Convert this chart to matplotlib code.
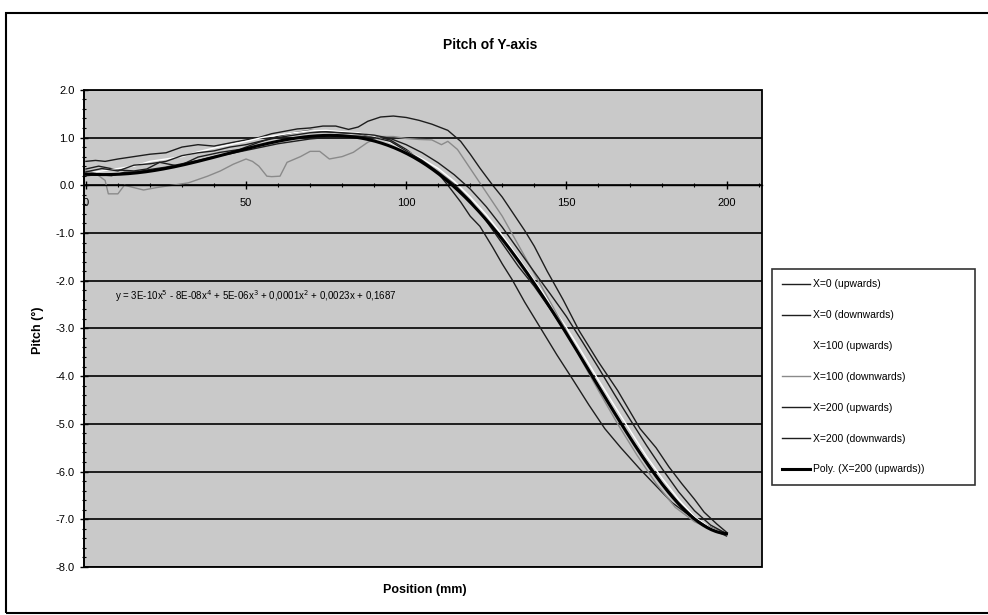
import numpy as np
import matplotlib
matplotlib.use('Agg')
from matplotlib import pyplot as plt
from matplotlib.ticker import MultipleLocator, FormatStrFormatter
from matplotlib.patches import Rectangle

plt.rcParams['font.family'] = ['Liberation Sans', 'DejaVu Sans']

# measured pitch along Y travel, one run per X position and direction
x0_up_pos = [0, 3, 6, 10, 15, 20, 25, 30, 35, 40, 46, 50, 54, 58, 62, 66, 70, 74,
             78, 82, 85, 88, 92, 96, 100, 104, 108, 113, 117, 120, 123, 127, 130,
             133, 137, 140, 144, 149, 154, 160, 166, 173, 178, 182, 186, 190, 193,
             197, 200]
x0_up = [0.50, 0.52, 0.50, 0.55, 0.60, 0.65, 0.68, 0.80, 0.85, 0.82, 0.90, 0.95,
         1.00, 1.08, 1.13, 1.18, 1.20, 1.24, 1.24, 1.17, 1.22, 1.34, 1.43, 1.45,
         1.42, 1.36, 1.28, 1.15, 0.92, 0.65, 0.36, 0.00, -0.25, -0.55, -0.95,
         -1.28, -1.80, -2.40, -3.05, -3.70, -4.30, -5.10, -5.50, -5.90, -6.25,
         -6.58, -6.85, -7.10, -7.27]

x0_down_pos = [0, 4, 10, 15, 19, 23, 29, 35, 42, 48, 54, 60, 65, 70, 75, 80, 85,
               90, 95, 100, 105, 110, 113, 117, 120, 123, 127, 130, 133, 137, 142,
               147, 152, 157, 162, 167, 173, 178, 183, 188, 192, 196, 200]
x0_down = [0.34, 0.40, 0.32, 0.30, 0.34, 0.48, 0.40, 0.59, 0.69, 0.75, 0.90, 1.03,
           1.10, 1.15, 1.12, 1.10, 1.08, 1.02, 0.95, 0.75, 0.50, 0.25, 0.00, -0.35,
           -0.65, -0.86, -1.30, -1.65, -1.97, -2.45, -3.00, -3.55, -4.07, -4.60,
           -5.10, -5.50, -5.95, -6.30, -6.65, -6.90, -7.07, -7.20, -7.30]

grid5 = [0, 5, 10, 15, 20, 25, 30, 35, 40, 45, 50, 55, 60, 65, 70, 75, 80, 85, 90,
         95, 100, 105, 110, 115, 120, 125, 130, 135, 140, 145, 150, 155, 160, 165,
         170, 175, 180, 185, 190, 195, 200]
x100_up = [0.25, 0.30, 0.35, 0.40, 0.50, 0.55, 0.60, 0.70, 0.78, 0.85, 0.92, 1.00,
           1.05, 1.10, 1.14, 1.15, 1.12, 1.10, 1.02, 0.90, 0.72, 0.55, 0.35, 0.08,
           -0.25, -0.62, -1.05, -1.52, -2.00, -2.48, -2.98, -3.52, -4.08, -4.62,
           -5.15, -5.68, -6.15, -6.58, -6.95, -7.18, -7.32]

x100_down_pos = [0, 3, 6, 7, 10, 12, 15, 18, 22, 27, 32, 38, 42, 46, 50, 52, 54,
                 56.5, 58, 60.6, 62.8, 67, 70, 73, 76, 80, 83.5, 88, 92, 96, 100,
                 104, 108, 111, 113, 116, 119, 122, 126, 130, 135, 140, 145, 150,
                 155, 160, 166, 172, 178, 184, 190, 195, 200]
x100_down = [0.30, 0.25, 0.10, -0.18, -0.18, 0.00, -0.05, -0.10, -0.05, 0.00, 0.05,
             0.19, 0.30, 0.44, 0.55, 0.50, 0.40, 0.19, 0.18, 0.19, 0.48, 0.60, 0.71,
             0.71, 0.55, 0.60, 0.69, 0.90, 1.02, 1.02, 0.98, 0.96, 0.95, 0.85, 0.92,
             0.75, 0.45, 0.15, -0.25, -0.65, -1.25, -1.85, -2.45, -3.05, -3.70,
             -4.30, -5.00, -5.65, -6.25, -6.75, -7.05, -7.20, -7.30]

x200_up_pos = [0, 4, 8, 12, 16, 20, 25, 30, 35, 40, 45, 50, 55, 60, 65, 70, 75, 80,
               85, 90, 95, 100, 105, 110, 115, 120, 125, 130, 135, 140, 145, 150,
               155, 160, 165, 170, 175, 180, 185, 190, 195, 200]
x200_up = [0.20, 0.22, 0.20, 0.27, 0.28, 0.33, 0.38, 0.45, 0.52, 0.60, 0.66, 0.73,
           0.80, 0.87, 0.92, 0.97, 1.00, 1.03, 1.03, 1.00, 0.92, 0.72, 0.52, 0.28,
           0.02, -0.32, -0.75, -1.22, -1.70, -2.12, -2.60, -3.10, -3.65, -4.20,
           -4.75, -5.30, -5.78, -6.25, -6.65, -6.98, -7.20, -7.35]

x200_down = [0.28, 0.35, 0.30, 0.42, 0.45, 0.50, 0.62, 0.68, 0.72, 0.80, 0.85, 0.93,
             1.00, 1.05, 1.10, 1.12, 1.10, 1.08, 1.05, 0.98, 0.85, 0.68, 0.47, 0.22,
             -0.08, -0.45, -0.88, -1.35, -1.82, -2.28, -2.75, -3.28, -3.82, -4.38,
             -4.92, -5.45, -5.95, -6.42, -6.82, -7.12, -7.30]

eq_text = ('y = 3E-10x$^5$ - 8E-08x$^4$ + 5E-06x$^3$ + 0,0001x$^2$ '
           '+ 0,0023x + 0,1687')

fig = plt.figure(figsize=(9.88, 6.15), dpi=100)
ax = fig.add_axes([0.085, 0.078, 0.686, 0.776])
ax.set_facecolor('#c9c9c9')

dark = '#1e1e1e'
ax.plot(x0_up_pos, x0_up, color=dark, lw=1.0, label='X=0 (upwards)')
ax.plot(x0_down_pos, x0_down, color=dark, lw=1.0, label='X=0 (downwards)')
ax.plot(grid5, x100_up, color='white', lw=1.0, label='X=100 (upwards)')
ax.plot(x100_down_pos, x100_down, color='#8a8a8a', lw=1.0, label='X=100 (downwards)')
ax.plot(x200_up_pos, x200_up, color=dark, lw=1.0, label='X=200 (upwards)')
ax.plot(grid5, x200_down, color=dark, lw=1.0, label='X=200 (downwards)')

# 5th order trend line through the X=200 upward run
coef = np.polyfit(x200_up_pos, x200_up, 5)
xf = np.linspace(0, 200, 300)
ax.plot(xf, np.polyval(coef, xf), color='black', lw=2.2,
        label='Poly. (X=200 (upwards))')

ax.text(9, -2.33, eq_text, fontsize=7, va='center', ha='left')

ax.set_xlim(-0.6, 211)
ax.set_ylim(-8, 2)
ax.yaxis.set_major_locator(MultipleLocator(1))
ax.yaxis.set_minor_locator(MultipleLocator(0.2))
ax.yaxis.set_major_formatter(FormatStrFormatter('%.1f'))
ax.xaxis.set_major_locator(MultipleLocator(50))
ax.xaxis.set_minor_locator(MultipleLocator(10))
ax.grid(axis='y', which='major', color='black', lw=1.2)
ax.set_axisbelow(True)

# category axis crosses at zero like the spreadsheet chart
ax.spines['bottom'].set_position(('data', 0))
ax.spines['bottom'].set_linewidth(1.0)
for s in ['top', 'right']:
    ax.spines[s].set_visible(False)
ax.spines['left'].set_linewidth(1.2)
ax.add_patch(Rectangle((0, 0), 1, 1, transform=ax.transAxes, fill=False,
                       ec='black', lw=1.3, zorder=5, clip_on=False))

ax.tick_params(axis='both', which='major', direction='inout', length=6,
               width=1, labelsize=8)
ax.tick_params(axis='both', which='minor', direction='inout', length=3, width=0.8)
ax.tick_params(axis='x', pad=6)

fig.text(0.496, 0.927, 'Pitch of Y-axis', ha='center', va='center',
         fontsize=10, fontweight='bold')
fig.text(0.038, 0.463, 'Pitch (°)', ha='center', va='center', rotation=90,
         fontsize=9, fontweight='bold')
fig.text(0.43, 0.04, 'Position (mm)', ha='center', va='center',
         fontsize=9, fontweight='bold')

leg = fig.legend(loc='center left', bbox_to_anchor=(0.776, 0.2, 0.216, 0.374),
                 mode='expand', fontsize=7.5, labelspacing=2.0, handlelength=2.7,
                 handletextpad=0.2, frameon=True, fancybox=False, borderpad=1.0)
leg.get_frame().set_edgecolor('black')
leg.get_frame().set_linewidth(1.2)

fig.add_artist(Rectangle((0.006, 0.004), 1.0, 0.975, transform=fig.transFigure,
                         fill=False, ec='black', lw=1.5))

fig.savefig('out.png', dpi=100)
